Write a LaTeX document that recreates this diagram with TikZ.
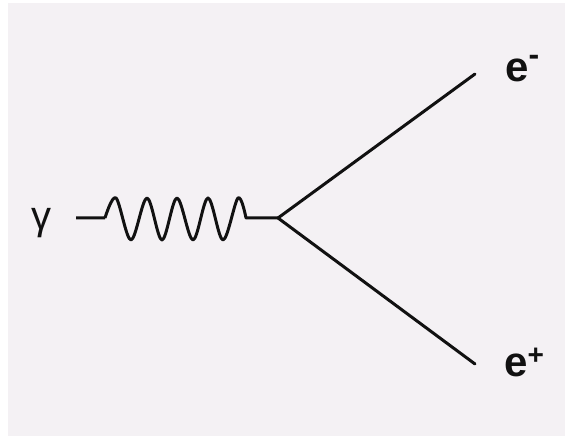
\documentclass[tikz,border=0pt]{standalone}
\usepackage{fontspec}
\setmainfont{Liberation Sans}
\definecolor{bgc}{HTML}{F4F1F4}
\definecolor{inkc}{HTML}{111111}
\begin{document}
\begin{tikzpicture}[x=1pt,y=-1pt,
  lbl/.style={inner sep=0pt, anchor=base west, text=inkc, font=\fontsize{44}{44}\selectfont},
  fermion/.style={draw=inkc, line width=3pt, line cap=round},
  photon/.style={draw=inkc, line width=3pt, line join=round}]
\useasboundingbox (0,0) rectangle (565,438);
\fill[white] (0,0) rectangle (565,438);
\fill[bgc] (8,3) rectangle (565,436);
% labels
\node[lbl, font=\fontsize{40}{40}\selectfont] (gam) at (31,230) {γ};
\node[lbl, font=\fontsize{42}{42}\selectfont\bfseries] (em) at (505,82) {e\raisebox{16pt}{\fontsize{32}{32}\selectfont -}};
\node[lbl, font=\fontsize{42}{42}\selectfont\bfseries] (ep) at (504,376) {e\raisebox{12pt}{\fontsize{28}{28}\selectfont +}};
% points
\coordinate (pin) at (76,218);
\coordinate (w0) at (105,218);
\coordinate (w1) at (246,218);
\coordinate (vtx) at (278,218);
\coordinate (eend) at (475,74);
\coordinate (pend) at (475,364);
% photon
\draw[photon] (pin) -- (w0)
  plot[smooth, tension=0.55] coordinates {(105,218) (116,198) (131,240) (147,198) (162,240) (177,198) (193,240) (208,198) (223,240) (238,198) (246,218)}
  -- (vtx);
% fermions
\draw[fermion] (vtx) -- (eend);
\draw[fermion] (vtx) -- (pend);
\end{tikzpicture}
\end{document}
